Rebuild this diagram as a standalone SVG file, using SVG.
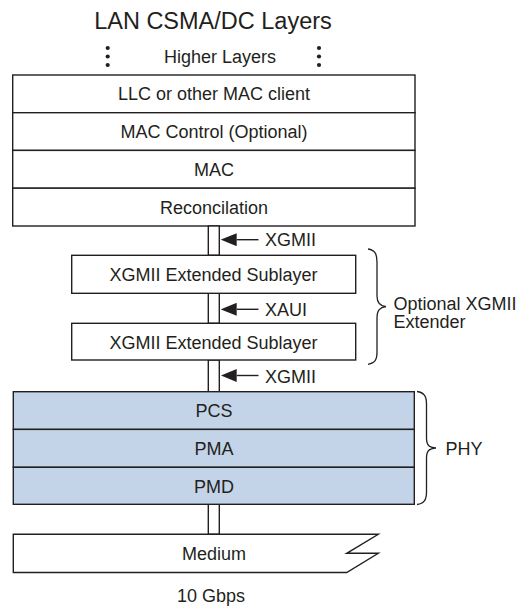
<svg xmlns="http://www.w3.org/2000/svg" width="521" height="607" viewBox="0 0 521 607">
<defs>
<style>
text{font-family:"Liberation Sans",Arial,sans-serif;fill:#231f20;font-size:18px;text-anchor:middle}
.l{text-anchor:start}
.box{fill:#fff;stroke:#231f20;stroke-width:1.4}
.phy{fill:#c4d4e8;stroke:#231f20;stroke-width:1.4}
.ln{fill:none;stroke:#231f20;stroke-width:1.4}
.br{fill:none;stroke:#231f20;stroke-width:1.3}
</style>
<marker id="ah" markerWidth="16" markerHeight="13" refX="0" refY="6.5" orient="auto" markerUnits="userSpaceOnUse"><path d="M0,0 L0,13 L16,6.5 Z" fill="#231f20"/></marker>
</defs>
<text x="213" y="29" style="font-size:23.5px">LAN CSMA/DC Layers</text>
<g id="higher">
<text x="220" y="63">Higher Layers</text>
<g fill="#231f20"><circle cx="107.7" cy="48" r="2.1"/><circle cx="107.7" cy="56.5" r="2.1"/><circle cx="107.7" cy="65" r="2.1"/><circle cx="319" cy="48" r="2.1"/><circle cx="319" cy="56.5" r="2.1"/><circle cx="319" cy="65" r="2.1"/></g>
</g>
<g id="llc"><rect class="box" x="12.7" y="75" width="402.3" height="37.7"/><text x="214" y="100">LLC or other MAC client</text></g>
<g id="macctl"><rect class="box" x="12.7" y="112.7" width="402.3" height="37.7"/><text x="214" y="138.3">MAC Control (Optional)</text></g>
<g id="mac"><rect class="box" x="12.7" y="150.4" width="402.3" height="37.8"/><text x="214" y="176">MAC</text></g>
<g id="rec"><rect class="box" x="12.7" y="188.2" width="402.3" height="37.8"/><text x="214" y="214">Reconcilation</text></g>
<g id="connectors">
<rect class="box" x="208.3" y="226" width="11" height="29.3"/>
<rect class="box" x="208.3" y="293.3" width="11" height="30"/>
<rect class="box" x="208.3" y="360" width="11" height="31.7"/>
<rect class="box" x="208.3" y="504.3" width="11" height="30"/>
<line class="ln" x1="258.5" y1="239.7" x2="236.7" y2="239.7" marker-end="url(#ah)"/>
<line class="ln" x1="258.5" y1="309.3" x2="236.7" y2="309.3" marker-end="url(#ah)"/>
<line class="ln" x1="258.5" y1="375.5" x2="236.7" y2="375.5" marker-end="url(#ah)"/>
</g>
<g id="lbl-xgmii1"><text class="l" x="265" y="246">XGMII</text></g>
<g id="xgs1"><rect class="box" x="71.7" y="255.3" width="284" height="38"/><text x="213.5" y="281">XGMII Extended Sublayer</text></g>
<g id="lbl-xaui"><text class="l" x="265" y="315.5">XAUI</text></g>
<g id="xgs2"><rect class="box" x="71.7" y="323.3" width="284" height="36.7"/><text x="213.5" y="348.5">XGMII Extended Sublayer</text></g>
<g id="lbl-xgmii2"><text class="l" x="265" y="382.5">XGMII</text></g>
<g id="ext-brace">
<path class="br" d="M368,249 C375,250 377,254 377,262 L377,296 C377,303 380,306 386,306.7 C380,307.5 377,310 377,318 L377,352 C377,360 375,363 368,364.3"/>
<text class="l" x="393.5" y="309.5">Optional XGMII</text>
<text class="l" x="393.5" y="328">Extender</text>
</g>
<g id="pcs"><rect class="phy" x="13.3" y="391.7" width="401" height="37.7"/><text x="214" y="416.7">PCS</text></g>
<g id="pma"><rect class="phy" x="13.3" y="429.4" width="401" height="37.9"/><text x="214" y="455">PMA</text></g>
<g id="pmd"><rect class="phy" x="13.3" y="467.3" width="401" height="37"/><text x="214" y="493.3">PMD</text></g>
<g id="phy-brace">
<path class="br" d="M417,391.5 C424,392.5 426.5,396 426.5,404 L426.5,438 C426.5,445 429,447.5 436,448 C429,448.5 426.5,451 426.5,458 L426.5,492 C426.5,500 424,503.5 417,504.5"/>
<text class="l" x="445.5" y="455">PHY</text>
</g>
<g id="medium">
<path class="box" d="M13.3,534.3 L378.3,534.3 L346.7,553.3 L378.3,553.3 L346.7,572.5 L13.3,572.5 Z"/>
<text x="214" y="560">Medium</text>
</g>
<text x="211" y="601.7">10 Gbps</text>
</svg>
